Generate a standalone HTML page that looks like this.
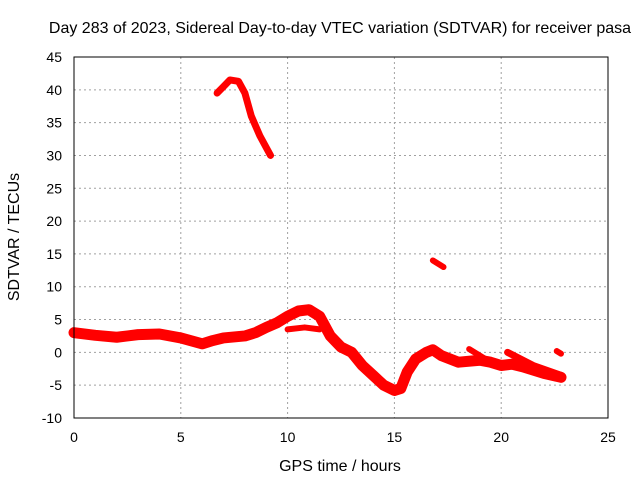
<!DOCTYPE html>
<html><head><meta charset="utf-8"><style>
body{margin:0;background:#fff}
svg text{font-family:"Liberation Sans",sans-serif;font-size:14px;fill:#000}
svg text.big{font-size:16px}
</style></head><body>
<svg id="chart" width="640" height="480">
<text class="big" x="340" y="33" text-anchor="middle">Day 283 of 2023, Sidereal Day-to-day VTEC variation (SDTVAR) for receiver pasa</text>
<text class="big" x="340" y="471" text-anchor="middle">GPS time / hours</text>
<text class="big" transform="translate(19,237) rotate(-90)" text-anchor="middle">SDTVAR / TECUs</text>
<g id="grid"></g><g id="marks"></g>
<rect x="74" y="57" width="534" height="361" fill="none" stroke="#000"/>
</svg>
<script>
const xTicks=[0,5,10,15,20,25];
const yTicks=[-10,-5,0,5,10,15,20,25,30,35,40,45];
const mainT=[0,1,2,3,4,5,6,6.5,7,8,8.5,9,9.5,10,10.5,11,11.5,12,12.5,13,13.5,14,14.5,15,15.3,15.6,16,16.5,16.8,17.2,18,19,19.5,20,20.5,21,22,22.8];
const mainV=[3,2.6,2.3,2.7,2.8,2.2,1.3,1.8,2.2,2.5,3,3.8,4.5,5.5,6.3,6.5,5.5,2.5,0.8,0,-2,-3.5,-5,-5.8,-5.5,-3,-1,0,0.4,-0.5,-1.5,-1.2,-1.5,-2,-1.8,-2.2,-3.2,-3.8];
const loopT=[10,10.8,11.5];const loopV=[3.5,3.8,3.5];
const b1T=[18.5,19.5];const b1V=[0.5,-1.5];
const b2T=[20.3,21.5,22.8];const b2V=[0,-2,-3.5];
const highT=[6.7,7,7.3,7.7,8,8.3,8.7,9.2];const highV=[39.5,40.5,41.5,41.3,39.5,36,33,30];
const midT=[16.8,17.3];const midV=[14,13];
const dotT=[22.6,22.8];const dotV=[0.2,-0.2];
const X=t=>74+t*(534/25), Y=v=>418-(v+10)*(361/55);
const ns="http://www.w3.org/2000/svg";
const g=document.getElementById('grid'),m=document.getElementById('marks');
function el(tag,a,p){const e=document.createElementNS(ns,tag);for(const k in a)e.setAttribute(k,a[k]);p.appendChild(e);return e;}
xTicks.forEach(t=>{
 if(t>0&&t<25){const l=el('line',{x1:X(t),x2:X(t),y1:57,y2:418,stroke:'#a0a0a0','stroke-dasharray':'2,3'},g);
 
 }
 const tx=el('text',{x:X(t),y:442,'text-anchor':'middle'},g);tx.textContent=t;
 
 
});
yTicks.forEach(v=>{
 if(v>-10&&v<45){const l=el('line',{x1:74,x2:608,y1:Y(v),y2:Y(v),stroke:'#a0a0a0','stroke-dasharray':'2,3'},g);
 
 }
 const tx=el('text',{x:62,y:Y(v)+5,'text-anchor':'end'},g);tx.textContent=v;
 
 
});
function series(T,V,w,name){
 const p=el('polyline',{points:T.map((t,i)=>X(t)+','+Y(V[i])).join(' '),fill:'none',stroke:'#ff0000','stroke-width':w,'stroke-linejoin':'round','stroke-linecap':'round'},m);
 
 
}
series(mainT,mainV,11,'sdtvar-main-series');
series(loopT,loopV,6,'sdtvar-loop-series');
series(b1T,b1V,6,'sdtvar-branch-1');
series(b2T,b2V,7,'sdtvar-branch-2');
series(highT,highV,7,'sdtvar-high-series');
series(midT,midV,6,'sdtvar-mid-series');
series(dotT,dotV,6,'sdtvar-dot');
</script>
</body></html>
